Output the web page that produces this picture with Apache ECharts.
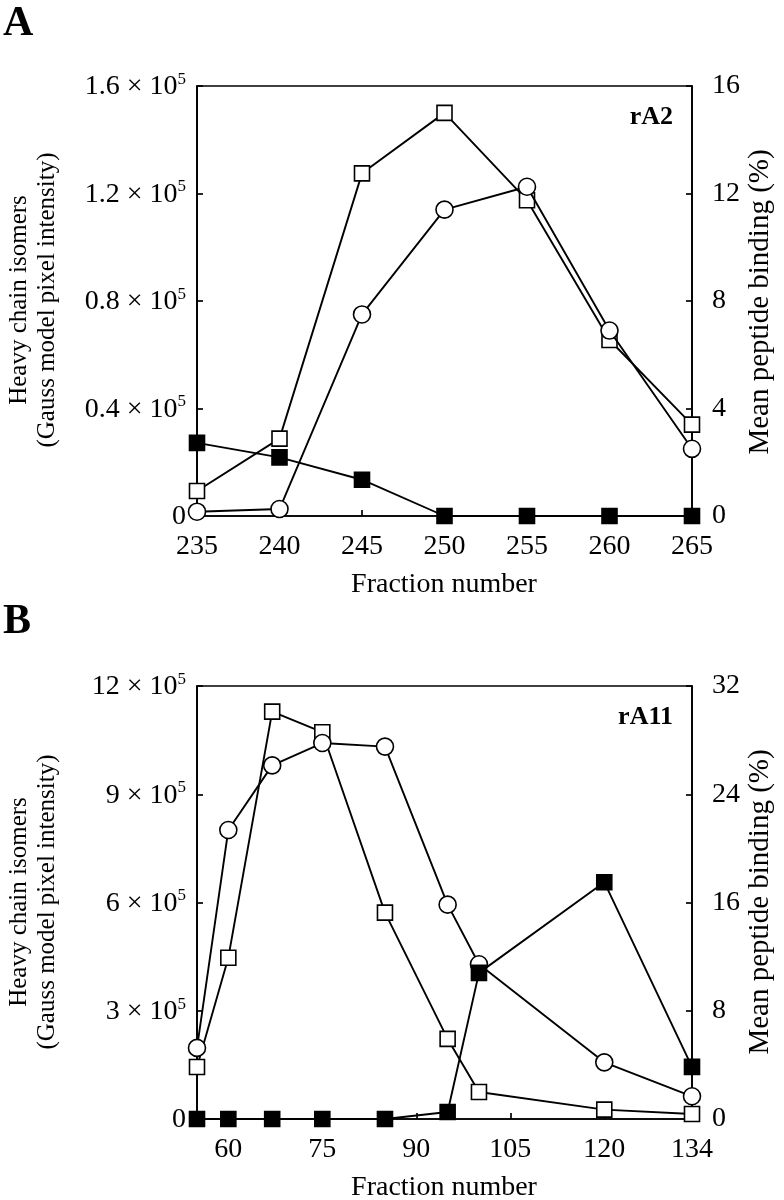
<!DOCTYPE html>
<html>
<head>
<meta charset="utf-8">
<script src="https://cdn.jsdelivr.net/npm/echarts@6/dist/echarts.min.js"></script>
<style>
html,body{margin:0;padding:0;background:#fff;}
#c{width:784px;height:1200px;}
</style>
</head>
<body>
<div id="c"></div>
<script>
// Panel A (rA2)
var fractionsA = [235, 240, 245, 250, 255, 260, 265];
var openSquaresA = [9300, 28800, 127500, 150000, 117500, 65500, 34000];
var openCirclesA = [1600, 2600, 75000, 114000, 122500, 69000, 25000];
var filledSquaresA = [2.72, 2.18, 1.35, 0, 0, 0, 0];
var xTicksA = [235, 240, 245, 250, 255, 260, 265];

// Panel B (rA11)
var fractionsB = [55, 60, 67, 75, 85, 95, 100, 120, 134];
var openSquaresB = [144000, 447000, 1129000, 1072000, 572000, 222000, 75000, 26000, 14000];
var openCirclesB = [197000, 801000, 980000, 1042000, 1032000, 594000, 429000, 157000, 63000];
var filledSquaresB = [0, 0, 0, 0, 0, 0.52, 10.8, 17.5, 3.85];
var xTicksB = [60, 75, 90, 105, 120, 134];

var FONT = 'Liberation Serif';
var FS = 28;

function pairs(xs, ys) { return xs.map(function (x, i) { return [x, ys[i]]; }); }

function leftFmt(v) {
  if (v === 0) return '{b|0}';
  var m = v / 1e5;
  var s = (Math.abs(m - Math.round(m)) < 1e-9) ? String(Math.round(m)) : m.toFixed(1);
  return '{b|' + s + ' × 10}{s|5}';
}
var richLab = {
  b: { fontFamily: FONT, fontSize: FS, color: '#000', verticalAlign: 'bottom', lineHeight: 30 },
  s: { fontFamily: FONT, fontSize: 17, color: '#000', verticalAlign: 'top', lineHeight: 15 }
};

var axisLineStyle = { show: true, lineStyle: { color: '#000', width: 1.7 } };
var tickStyle = { show: true, inside: true, length: 6, lineStyle: { color: '#000', width: 1.7 } };

function yLeft(gi, max, interval) {
  return {
    type: 'value', gridIndex: gi, min: 0, max: max, interval: interval, position: 'left',
    axisLine: axisLineStyle, axisTick: tickStyle, splitLine: { show: false },
    axisLabel: { margin: 11, formatter: leftFmt, rich: richLab }
  };
}
function yRight(gi, max, interval) {
  return {
    type: 'value', gridIndex: gi, min: 0, max: max, interval: interval, position: 'right',
    axisLine: axisLineStyle, axisTick: tickStyle, splitLine: { show: false },
    axisLabel: { margin: 20, fontFamily: FONT, fontSize: FS, color: '#000' }
  };
}

var lineStyle = { color: '#000', width: 1.9 };
function ser(name, xi, yi, data, symbol, size, fill, z) {
  return {
    name: name, type: 'line', xAxisIndex: xi, yAxisIndex: yi, data: data,
    symbol: symbol, symbolSize: size, showSymbol: true, z: z,
    lineStyle: lineStyle,
    itemStyle: { color: fill, borderColor: '#000', borderWidth: 1.6 },
    emphasis: { disabled: true }, animation: false
  };
}

var chart = echarts.init(document.getElementById('c'), null, { renderer: 'canvas' });
chart.setOption({
  backgroundColor: '#fff',
  animation: false,
  grid: [
    { left: 197, top: 86, width: 495, height: 430, show: true, borderColor: '#000', borderWidth: 1.7, backgroundColor: 'transparent' },
    { left: 197, top: 686, width: 495, height: 433, show: true, borderColor: '#000', borderWidth: 1.7, backgroundColor: 'transparent' }
  ],
  xAxis: [
    {
      type: 'value', gridIndex: 0, min: 235, max: 265, interval: 5,
      axisLine: axisLineStyle, axisTick: tickStyle, splitLine: { show: false },
      axisLabel: { margin: 17, fontFamily: FONT, fontSize: FS, color: '#000', showMinLabel: true, showMaxLabel: true }
    },
    {
      type: 'value', gridIndex: 1, min: 55, max: 134,
      axisLine: axisLineStyle,
      axisTick: { show: true, inside: true, length: 6, lineStyle: { color: '#000', width: 1.7 }, customValues: xTicksB },
      splitLine: { show: false },
      axisLabel: { margin: 17, fontFamily: FONT, fontSize: FS, color: '#000', customValues: xTicksB }
    }
  ],
  yAxis: [
    yLeft(0, 160000, 40000),
    yRight(0, 16, 4),
    yLeft(1, 1200000, 300000),
    yRight(1, 32, 8)
  ],
  series: [
    ser('Open squares A', 0, 0, pairs(fractionsA, openSquaresA), 'rect', 15, '#fff', 3),
    ser('Open circles A', 0, 0, pairs(fractionsA, openCirclesA), 'circle', 17, '#fff', 4),
    ser('Filled squares A', 0, 1, pairs(fractionsA, filledSquaresA), 'rect', 15, '#000', 5),
    ser('Open squares B', 1, 2, pairs(fractionsB, openSquaresB), 'rect', 15, '#fff', 3),
    ser('Open circles B', 1, 2, pairs(fractionsB, openCirclesB), 'circle', 17, '#fff', 4),
    ser('Filled squares B', 1, 3, pairs(fractionsB, filledSquaresB), 'rect', 15, '#000', 5)
  ],
  graphic: [
    { type: 'text', left: 3, top: 3, style: { text: 'A', fontFamily: FONT, fontWeight: 'bold', fontSize: 42, fill: '#000' } },
    { type: 'text', left: 3, top: 601, style: { text: 'B', fontFamily: FONT, fontWeight: 'bold', fontSize: 42, fill: '#000' } },
    { type: 'text', x: 673, y: 117, style: { text: 'rA2', fontFamily: FONT, fontWeight: 'bold', fontSize: 26, fill: '#000', align: 'right', verticalAlign: 'middle' } },
    { type: 'text', x: 673, y: 717, style: { text: 'rA11', fontFamily: FONT, fontWeight: 'bold', fontSize: 26, fill: '#000', align: 'right', verticalAlign: 'middle' } },
    { type: 'text', x: 444, y: 585, style: { text: 'Fraction number', fontFamily: FONT, fontSize: 28, fill: '#000', align: 'center', verticalAlign: 'middle' } },
    { type: 'text', x: 444, y: 1188, style: { text: 'Fraction number', fontFamily: FONT, fontSize: 28, fill: '#000', align: 'center', verticalAlign: 'middle' } },
    { type: 'text', x: 19, y: 300, rotation: Math.PI / 2, style: { text: 'Heavy chain isomers', fontFamily: FONT, fontSize: 25, fill: '#000', align: 'center', verticalAlign: 'middle' } },
    { type: 'text', x: 47, y: 300, rotation: Math.PI / 2, style: { text: '(Gauss model pixel intensity)', fontFamily: FONT, fontSize: 25, fill: '#000', align: 'center', verticalAlign: 'middle' } },
    { type: 'text', x: 760, y: 302, rotation: Math.PI / 2, style: { text: 'Mean peptide binding (%)', fontFamily: FONT, fontSize: 29, fill: '#000', align: 'center', verticalAlign: 'middle' } },
    { type: 'text', x: 19, y: 902, rotation: Math.PI / 2, style: { text: 'Heavy chain isomers', fontFamily: FONT, fontSize: 25, fill: '#000', align: 'center', verticalAlign: 'middle' } },
    { type: 'text', x: 47, y: 902, rotation: Math.PI / 2, style: { text: '(Gauss model pixel intensity)', fontFamily: FONT, fontSize: 25, fill: '#000', align: 'center', verticalAlign: 'middle' } },
    { type: 'text', x: 760, y: 902, rotation: Math.PI / 2, style: { text: 'Mean peptide binding (%)', fontFamily: FONT, fontSize: 29, fill: '#000', align: 'center', verticalAlign: 'middle' } }
  ]
});
</script>
</body>
</html>
